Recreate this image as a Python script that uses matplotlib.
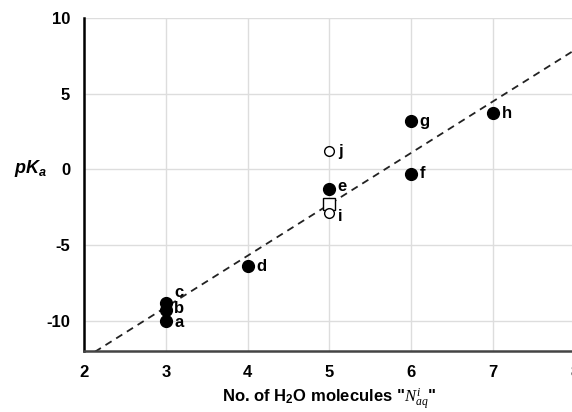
import numpy as np
import matplotlib
matplotlib.use('Agg')
import matplotlib.pyplot as plt

plt.rcParams['font.family'] = ['Liberation Sans', 'DejaVu Sans']
plt.rcParams['axes.unicode_minus'] = False
plt.rcParams['mathtext.fontset'] = 'custom'
plt.rcParams['mathtext.rm'] = 'Liberation Sans:bold'
plt.rcParams['mathtext.it'] = 'Liberation Serif:italic'
plt.rcParams['mathtext.sf'] = 'Liberation Sans:italic:bold'

# filled points
filled_x = [3, 3, 3, 4, 5, 6, 6, 7]
filled_y = [-10.0, -9.3, -8.8, -6.4, -1.3, -0.3, 3.2, 3.7]
filled_lab = ['a', 'b', 'c', 'd', 'e', 'f', 'g', 'h']

# open points
open_x = [5, 5]
open_y = [-2.9, 1.2]
open_lab = ['i', 'j']

# square (predicted) point
sq_x = [5]
sq_y = [-2.3]

# dashed trend line
trend_slope = 3.4
trend_intercept = -19.3

# label offsets in points (dx, dy)
offsets = {'a': (6, -1), 'b': (6, 1), 'c': (6, 7), 'd': (6, 0), 'e': (6, 2),
           'f': (6, 0), 'g': (6, 0), 'h': (6, 0), 'i': (6, -2), 'j': (6, 0)}

fig = plt.figure(figsize=(5.72, 4.12), dpi=100)
ax = fig.add_axes([0.147, 0.148, 0.858, 0.808])

ax.set_xlim(2, 8)
ax.set_ylim(-12, 10)
ax.set_xticks(range(2, 9))
ax.set_yticks([-10, -5, 0, 5, 10])
ax.grid(True, color='#dddddd', lw=1.0)
ax.set_axisbelow(True)

for s in ['top', 'right']:
    ax.spines[s].set_visible(False)
ax.spines['left'].set_linewidth(1.8)
ax.spines['bottom'].set_linewidth(1.8)
ax.spines['bottom'].set_color('#444444')
ax.tick_params(length=0, pad=10, labelsize=12)
for t in ax.get_xticklabels() + ax.get_yticklabels():
    t.set_fontweight('bold')

tx = np.array([2.0, 8.0])
ax.plot(tx, trend_slope * tx + trend_intercept, ls=(0, (4, 3)), color='#222222', lw=1.3, zorder=2)

ax.plot(filled_x, filled_y, 'o', color='black', ms=8.5, zorder=3)
ax.plot(open_x, open_y, 'o', mfc='white', mec='black', mew=1.0, ms=7, zorder=4)
ax.plot(sq_x, sq_y, 's', mfc='white', mec='black', mew=1.0, ms=8, zorder=3)

for x, y, l in list(zip(filled_x, filled_y, filled_lab)) + list(zip(open_x, open_y, open_lab)):
    ax.annotate(l, (x, y), xytext=offsets[l], textcoords='offset points',
                fontsize=12, fontweight='bold', va='center', ha='left', zorder=5)

ax.set_xlabel(r'No. of H$_{2}$O molecules "$N_{aq}^{i}$"', fontsize=12, fontweight='bold', labelpad=5)
fig.text(0.025, 0.59, r'$\mathsf{pK_a}$', fontsize=13, va='center', ha='left')

fig.savefig('out.png', dpi=100)
